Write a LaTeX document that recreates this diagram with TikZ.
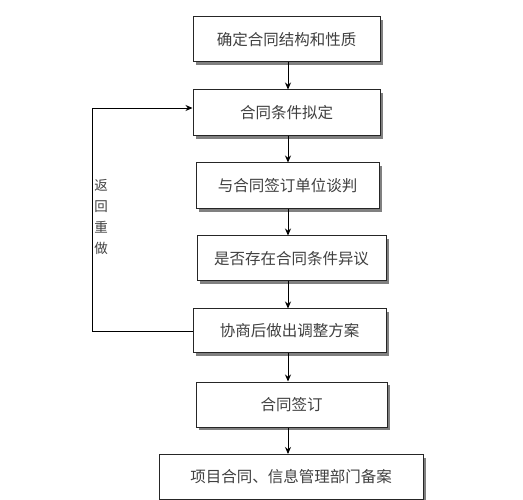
\documentclass[tikz,border=0pt]{standalone}
\usepackage{fontspec}
\setmainfont{Noto Sans CJK SC}
\usetikzlibrary{arrows.meta,shadows}
\begin{document}
\begin{tikzpicture}[x=1pt,y=-1pt,
  box/.style={draw=black!85,line width=1pt,fill=white,inner sep=0pt,
    minimum height=45pt,text=black!75,font=\fontsize{15.5}{17}\selectfont,
    drop shadow={shadow xshift=3pt,shadow yshift=-3pt,fill=black!50,opacity=1}},
  arr/.style={draw=black,line width=0.9pt,-{Stealth[length=7pt,width=6pt]}}]
\useasboundingbox (0,0) rectangle (523,500);
\node[box,minimum width=187pt] (b1) at (286.5,39.5) {确定合同结构和性质};
\node[box,minimum width=187pt,minimum height=46pt] (b2) at (286.5,113) {合同条件拟定};
\node[box,minimum width=183pt,minimum height=46pt] (b3) at (287.5,186) {与合同签订单位谈判};
\node[box,minimum width=189pt] (b4) at (291.5,258.5) {是否存在合同条件异议};
\node[box,minimum width=193pt,minimum height=44pt] (b5) at (289.5,331) {协商后做出调整方案};
\node[box,minimum width=191pt] (b6) at (291.5,404.5) {合同签订};
\node[box,minimum width=264pt] (b7) at (291,477) {项目合同、信息管理部门备案};
\coordinate (ax) at (288,0);
\draw[arr] (b1.south -| ax) -- (b2.north -| ax);
\draw[arr] (b2.south -| ax) -- (b3.north -| ax);
\draw[arr] (b3.south -| ax) -- (b4.north -| ax);
\draw[arr] (b4.south -| ax) -- (b5.north -| ax);
\draw[arr] (b5.south -| ax) -- (b6.north -| ax);
\draw[arr] (b6.south -| ax) -- (b7.north -| ax);
\coordinate (lp) at (92,0);
\coordinate (in2) at ([yshift=5pt]b2.west);
\draw[arr] (b5.west) -- (b5.west -| lp) -- (in2 -| lp) -- (in2);
\node[text=black!75,font=\fontsize{13.5}{21}\selectfont,align=center,inner sep=0pt] (lbl) at (101,217) {返\\回\\重\\做};
\end{tikzpicture}
\end{document}
